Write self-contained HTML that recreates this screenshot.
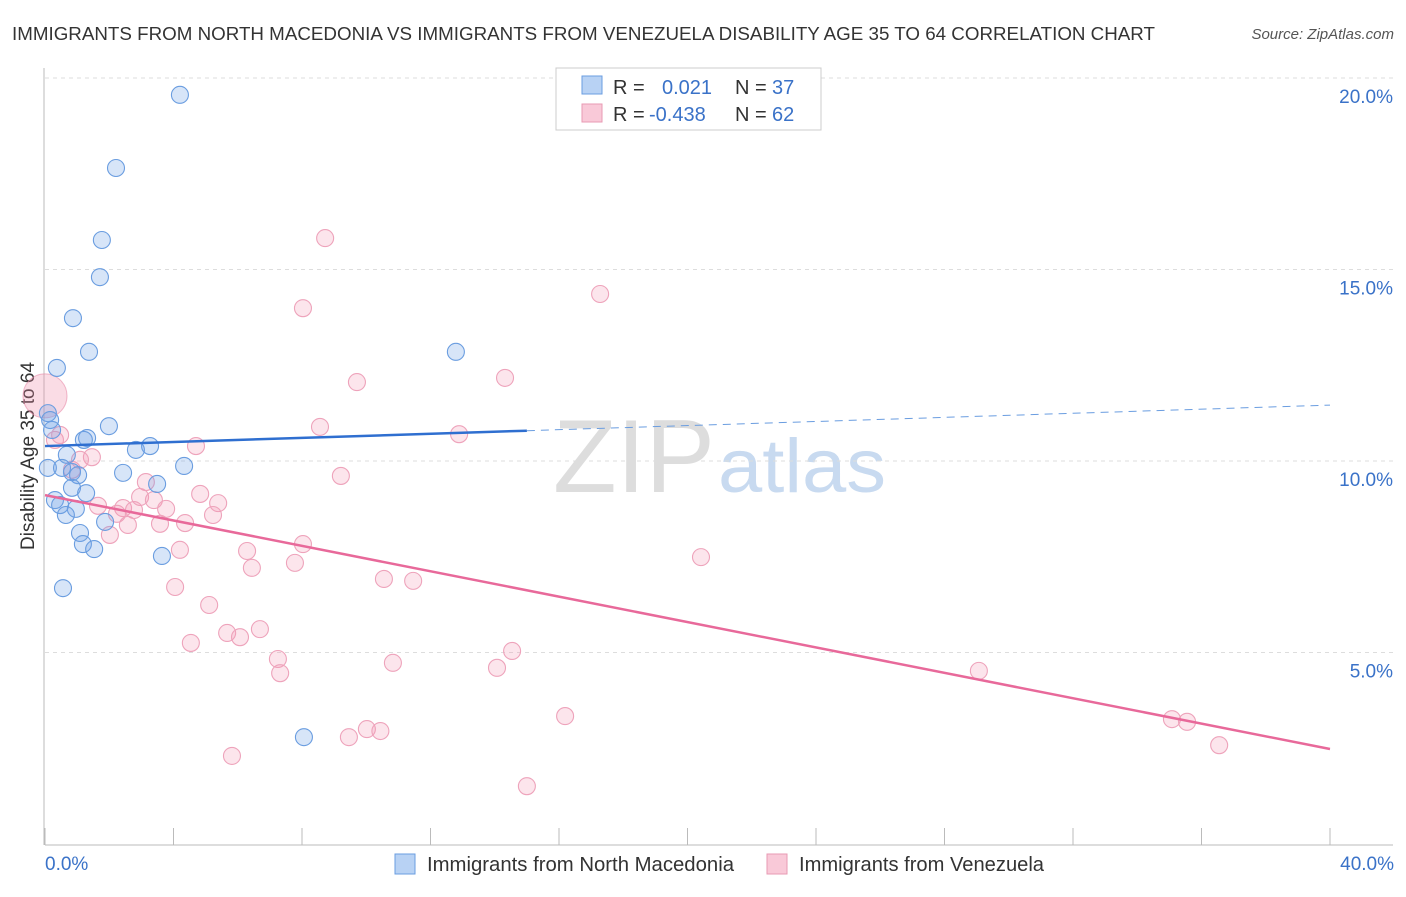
<!DOCTYPE html>
<html><head><meta charset="utf-8"><style>
body{margin:0;background:#fff;font-family:"Liberation Sans",sans-serif}
svg text{font-family:"Liberation Sans",sans-serif}
</style></head><body>
<svg id="c" width="1406" height="892">
<text x="12" y="40" font-size="18" fill="#333" textLength="1143" lengthAdjust="spacingAndGlyphs">IMMIGRANTS FROM NORTH MACEDONIA VS IMMIGRANTS FROM VENEZUELA DISABILITY AGE 35 TO 64 CORRELATION CHART</text>
<text x="1394" y="39" font-size="15" fill="#555" font-style="italic" text-anchor="end">Source: ZipAtlas.com</text>
<text x="0" y="0" transform="translate(34,456) rotate(-90)" font-size="19" fill="#333" text-anchor="middle">Disability Age 35 to 64</text>
<text x="553" y="492" font-size="104" fill="#ddd" font-family="Liberation Serif" textLength="162" lengthAdjust="spacingAndGlyphs">ZIP</text>
<text x="718" y="492" font-size="76" fill="#c8daf0" textLength="168" lengthAdjust="spacingAndGlyphs">atlas</text>
<g id="grid"></g><g id="pts"></g><g id="lines"></g>
<rect x="556" y="68" width="265" height="62" fill="#fff" stroke="#ccc"/>
<rect x="582" y="76" width="20" height="18" fill="#b8d2f4" stroke="#6a9de0"/>
<rect x="582" y="104" width="20" height="18" fill="#f9c9d8" stroke="#e89ab3"/>
<text y="94" font-size="20" fill="#333"><tspan x="613">R = </tspan><tspan x="662" fill="#3a72c8">0.021</tspan><tspan x="735">N = </tspan><tspan x="772" fill="#3a72c8">37</tspan></text>
<text y="121" font-size="20" fill="#333"><tspan x="613">R = </tspan><tspan x="649" fill="#3a72c8">-0.438</tspan><tspan x="735">N = </tspan><tspan x="772" fill="#3a72c8">62</tspan></text>
<rect x="395" y="854" width="20" height="20" fill="#b8d2f4" stroke="#6a9de0"/>
<text x="427" y="871" font-size="20" fill="#333" textLength="307" lengthAdjust="spacingAndGlyphs">Immigrants from North Macedonia</text>
<rect x="767" y="854" width="20" height="20" fill="#f9c9d8" stroke="#e89ab3"/>
<text x="799" y="871" font-size="20" fill="#333" textLength="245" lengthAdjust="spacingAndGlyphs">Immigrants from Venezuela</text>
<text x="45" y="870" font-size="19" fill="#3a72c8">0.0%</text>
<text x="1394" y="870" font-size="19" fill="#3a72c8" text-anchor="end">40.0%</text>
</svg>
<script>
const yTicks=[5,10,15,20];
const yTickLabels=["5.0%","10.0%","15.0%","20.0%"];
const blueX=[4.20,2.21,1.77,1.71,0.87,1.37,0.37,12.79,0.09,0.22,1.99,1.31,1.21,3.27,2.83,0.68,4.33,0.09,0.53,0.84,1.03,2.43,3.49,1.28,0.84,0.31,0.47,0.96,0.65,1.87,1.09,1.18,1.53,3.64,0.56,8.06,0.16];
const blueY=[19.56,17.65,15.77,14.80,13.73,12.85,12.43,12.85,11.25,10.81,10.91,10.60,10.55,10.39,10.29,10.16,9.87,9.82,9.82,9.71,9.63,9.69,9.40,9.16,9.30,8.98,8.85,8.75,8.59,8.41,8.12,7.83,7.70,7.52,6.68,2.79,11.07];
const pinkX=[8.72,17.28,8.03,9.71,14.32,8.56,12.89,4.70,0.31,0.47,1.46,1.09,0.84,9.21,3.14,4.83,2.96,3.39,5.39,1.65,2.43,2.77,3.77,2.24,5.23,2.58,3.58,4.36,2.02,8.03,4.20,6.29,20.42,7.78,6.44,10.55,11.46,4.05,5.11,6.69,5.67,6.07,4.54,14.54,7.25,10.83,14.07,29.07,7.32,16.19,35.08,35.55,10.02,10.44,9.46,36.55,5.82,15.00];
const pinkY=[15.82,14.36,13.99,12.06,12.17,10.89,10.70,10.39,10.55,10.68,10.10,10.03,9.77,9.61,9.45,9.14,9.06,8.98,8.90,8.83,8.77,8.72,8.75,8.62,8.59,8.33,8.36,8.38,8.07,7.83,7.68,7.65,7.49,7.34,7.21,6.92,6.87,6.71,6.24,5.61,5.51,5.40,5.25,5.04,4.83,4.73,4.60,4.52,4.46,3.34,3.26,3.19,3.00,2.95,2.79,2.58,2.30,1.51];
const bigPink=[0,11.70];
const blueTrend=[10.39,11.46], blueSolidEnd=15;
const pinkTrend=[9.11,2.48];
const NS="http://www.w3.org/2000/svg";
const sx=v=>45+v*32.125, sy=v=>844-v*38.3;
function mk(t,a,p){const e=document.createElementNS(NS,t);for(const k in a)e.setAttribute(k,a[k]);document.getElementById(p).appendChild(e);return e;}
yTicks.forEach((t,i)=>{
 const l=mk('line',{x1:45,x2:1393,y1:sy(t),y2:sy(t),stroke:'#ddd','stroke-dasharray':'4,4'},'grid');
 
 
 const tx=mk('text',{x:1393,y:sy(t)+25,'font-size':19,fill:'#3a72c8','text-anchor':'end'},'grid');tx.textContent=yTickLabels[i];
 
 
});
const ax=mk('line',{x1:45,x2:1393,y1:845,y2:845,stroke:'#bbb'},'grid');


const ay=mk('line',{x1:44,x2:44,y1:68,y2:845,stroke:'#bbb'},'grid');


for(let i=0;i<=10;i++){const t=mk('line',{x1:sx(i*4),x2:sx(i*4),y1:828,y2:845,stroke:'#bbb'},'grid');
 
 }
const bp=mk('circle',{cx:sx(bigPink[0]),cy:sy(bigPink[1]),r:22,fill:'rgba(240,140,170,0.3)',stroke:'rgba(232,138,168,0.6)'},'pts');


pinkX.forEach((x,i)=>{const c=mk('circle',{cx:sx(x),cy:sy(pinkY[i]),r:8.5,fill:'rgba(244,150,180,0.25)',stroke:'#eea3bb','stroke-width':1.1},'pts');
 
 });
blueX.forEach((x,i)=>{const c=mk('circle',{cx:sx(x),cy:sy(blueY[i]),r:8.5,fill:'rgba(110,160,230,0.28)',stroke:'#6a9de0','stroke-width':1.1},'pts');
 
 });
const bAt=x=>blueTrend[0]+(blueTrend[1]-blueTrend[0])*x/40;
const l1=mk('line',{x1:sx(0),y1:sy(bAt(0)),x2:sx(blueSolidEnd),y2:sy(bAt(blueSolidEnd)),stroke:'#2f6fd0','stroke-width':2.5},'lines');


const l2=mk('line',{x1:sx(blueSolidEnd),y1:sy(bAt(blueSolidEnd)),x2:sx(40),y2:sy(bAt(40)),stroke:'#6a9de0','stroke-width':1,'stroke-dasharray':'8,6'},'lines');


const l3=mk('line',{x1:sx(0),y1:sy(pinkTrend[0]),x2:sx(40),y2:sy(pinkTrend[1]),stroke:'#e8699a','stroke-width':2.5},'lines');


</script>
</body></html>
